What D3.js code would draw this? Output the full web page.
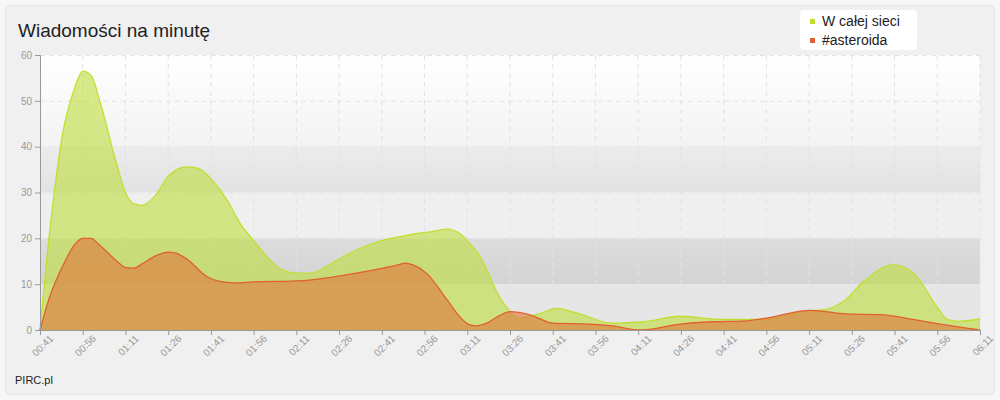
<!DOCTYPE html>
<html><head><meta charset="utf-8">
<script src="https://cdn.jsdelivr.net/npm/d3@7"></script>
<style>body{margin:0;background:#f5f6f8;font-family:"Liberation Sans",Arial,sans-serif}</style>
</head><body><svg id="chart" width="1000" height="400"></svg>
<script>
// minutes after 00:41
const netMin = [0,3.5,8,12,15,18,21,27,30,33,35.7,40,45,48,51,54,57,60,66,70,75,79.6,85.4,90,95,99.5,105,113,120,126,132,138,143,147.5,150,154.5,161.5,168.5,175,181.5,188,201,212,224.7,239.8,254.6,270,275,282,289,299.5,306.5,315,318.5,322,330];
const netVal = [0,22,43,52.5,56.5,55.5,50,36,30,27.5,27.2,29,33.5,35,35.6,35.5,34.8,33,28,23.5,19.5,16,13,12.4,12.4,13.5,15.5,18,19.5,20.3,21,21.5,22,21,19.5,16,7,2.7,3.5,4.7,3.8,1.5,1.8,3,2.3,2.3,4.2,4.4,6.2,10.5,14.2,12.5,5,2.3,1.9,2.4];
const astMin = [0,3,8.8,12,15,17.8,21,27,30,33,36,41,45,48,51.5,59,63,68,75,90,96,102,112,120.5,126.4,128,131,135.8,143,147.5,150.3,153,156.8,161.5,165,172,180,193,201,210.7,224.7,236,248,255,270.4,283,296,306.5,315,330];
const astVal = [0,6.5,15,18.5,20,20,18.5,15,13.6,13.5,14.5,16.3,17,16.7,15.5,11.5,10.6,10.3,10.5,10.7,11,11.5,12.5,13.5,14.3,14.6,14.2,12.3,6.5,2.8,1.3,0.9,1.5,3.2,4,3.3,1.5,1.3,0.9,0,1.3,1.8,2,2.6,4.3,3.5,3.3,2.3,1.4,0];
const tickMin = d3.range(0, 331, 15);
const yTicks = [0,10,20,30,40,50,60];
const seriesNames = ["W całej sieci", "#asteroida"];

const fmt = m => { const t = 41 + m; return String(Math.floor(t/60)).padStart(2,'0') + ':' + String(t%60).padStart(2,'0'); };

const svg = d3.select('#chart');
svg.append('rect').attr('x',5.5).attr('y',5.5).attr('width',989).attr('height',389).attr('rx',5)
  .attr('fill','#f0f0f0').attr('stroke','#e4e6ea');

const x = d3.scaleLinear().domain([0,330]).range([40,980]);
const y = d3.scaleLinear().domain([0,60]).range([330,55]);

const defs = svg.append('defs');
const grad = (id, a, b) => {
  const g = defs.append('linearGradient').attr('id',id).attr('x1',0).attr('y1',0).attr('x2',0).attr('y2',1);
  g.append('stop').attr('offset',0).attr('stop-color',a);
  g.append('stop').attr('offset',1).attr('stop-color',b);
};
grad('top','#ffffff','#f3f3f3');
grad('mid','#ececec','#e2e2e2');
grad('low','#dcdcdc','#d4d4d4');

const bands = [[40,60,'url(#top)'],[30,40,'url(#mid)'],[20,30,'#efefef'],[10,20,'url(#low)'],[0,10,'#e6e6e6']];
svg.selectAll('.band').data(bands).enter().append('rect')
  .attr('x',x(0)).attr('width',x(330)-x(0))
  .attr('y',d=>y(d[1])).attr('height',d=>y(d[0])-y(d[1])).attr('fill',d=>d[2]);

// grid
svg.selectAll('.vg').data(tickMin.slice(1)).enter().append('line')
  .attr('x1',d=>x(d)).attr('x2',d=>x(d)).attr('y1',y(60)).attr('y2',y(0))
  .attr('stroke','#e2e2e2').attr('stroke-dasharray','5,4');
svg.selectAll('.hg').data(yTicks.slice(1)).enter().append('line')
  .attr('x1',x(0)).attr('x2',x(330)).attr('y1',d=>y(d)+.5).attr('y2',d=>y(d)+.5)
  .attr('stroke','#e4e4e4').attr('stroke-dasharray','5,4');

const area = (ms, vs) => d3.area().curve(d3.curveMonotoneX)
  .x((d,i)=>x(ms[i])).y0(y(0)).y1(d=>y(d))(vs);
const line = (ms, vs) => d3.line().curve(d3.curveMonotoneX)
  .x((d,i)=>x(ms[i])).y(d=>y(d))(vs);

svg.append('path').attr('d',area(netMin,netVal)).attr('fill','rgba(190,222,60,0.6)');
svg.append('path').attr('d',line(netMin,netVal)).attr('fill','none').attr('stroke','#c2df30').attr('stroke-width',1.3);
svg.append('path').attr('d',area(astMin,astVal)).attr('fill','rgba(222,120,60,0.62)');
svg.append('path').attr('d',line(astMin,astVal)).attr('fill','none').attr('stroke','#e06030').attr('stroke-width',1.3);

// axes
const xa = svg.append('g').attr('transform',`translate(0,${y(0)})`)
  .call(d3.axisBottom(x).tickValues(tickMin).tickFormat(fmt).tickSize(5));
xa.select('.domain').attr('stroke','#999');
xa.selectAll('line').attr('stroke','#999');
xa.selectAll('text').attr('fill','#999').style('font-size','10px').attr('text-anchor','end')
  .attr('dx','3').attr('dy','8').attr('transform','rotate(-45)');
const ya = svg.append('g').attr('transform',`translate(${x(0)},0)`)
  .call(d3.axisLeft(y).tickValues(yTicks).tickSize(5));
ya.select('.domain').attr('stroke','#999');
ya.selectAll('line').attr('stroke','#999');
ya.selectAll('text').attr('fill','#999').style('font-size','10px');

svg.append('text').attr('x',18).attr('y',37).text('Wiadomości na minutę')
  .style('font-size','19px').attr('fill','#222');
svg.append('text').attr('x',15).attr('y',384).text('PIRC.pl').style('font-size','11px').attr('fill','#222');

// legend
const lg = svg.append('g').attr('transform','translate(800,10)');
lg.append('rect').attr('width',117).attr('height',40).attr('rx',4).attr('fill','#fff');
const colors = ['#bede2c','#e06030'];
seriesNames.forEach((n,i)=>{
  lg.append('rect').attr('x',10).attr('y',9+i*19).attr('width',5).attr('height',5).attr('fill',colors[i]);
  lg.append('text').attr('x',22).attr('y',16+i*19).text(n).style('font-size','14px').attr('fill','#222');
});
</script></body></html>
